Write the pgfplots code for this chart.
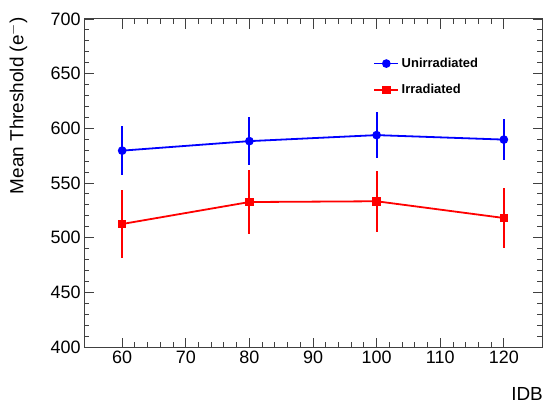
\documentclass[border=0pt]{standalone}
\usepackage{pgfplots}
\pgfplotsset{compat=1.18}
\usepackage{fontspec}
\setmainfont{Liberation Sans}
\begin{document}
\begin{tikzpicture}[x=1bp,y=1bp]
\path[use as bounding box] (0,0) rectangle (550,410);
\begin{axis}[
  at={(84bp,63bp)}, anchor=south west,
  scale only axis, width=458bp, height=328bp,
  xmin=54, xmax=126, ymin=400, ymax=700,
  xtick={60,70,...,120}, ytick={400,450,...,700},
  minor x tick num=4, minor y tick num=4,
  tick align=inside,
  major tick length=9.5bp, minor tick length=5bp,
  axis line style={line width=1bp, black!75},
  every tick/.style={line width=0.9bp, black!75},
  /pgf/number format/assume math mode=true,
  ticklabel style={font=\fontsize{18}{20}\selectfont},
  xlabel={IDB}, ylabel={Mean Threshold (e$^{-}$)},
  label style={font=\fontsize{19}{22}\selectfont},
  xlabel style={at={(rel axis cs:1,0)}, anchor=north east, inner sep=0pt, yshift=-40bp, xshift=1bp},
  ylabel style={at={(rel axis cs:-0.144,1.006)}, anchor=east, inner sep=0pt},
  legend style={draw=none, fill=none, at={(rel axis cs:0.625,0.895)}, anchor=north west,
    font=\fontsize{13}{15}\selectfont\bfseries, row sep=10.5bp,
    nodes={inner sep=2.5bp}},
  legend cell align=left,
  legend image code/.code={\draw[line width=1.8bp, mark repeat=2,mark phase=2] plot coordinates {(0bp,0bp) (12bp,0bp) (24bp,0bp)};},
]
\addplot[blue, line width=1.8bp, mark=*, mark size=3.4bp,
  error bars/.cd, y dir=both, y explicit, error mark=none,
  error bar style={line width=2bp, blue}]
  coordinates {
  (60,579.6) +- (0,22.6)
  (80,588.3) +- (0,22.2)
  (100,593.8) +- (0,21.2)
  (120,589.7) +- (0,19.0)
};
\addlegendentry{Unirradiated}
\addplot[red, line width=1.8bp, mark=square*, mark size=3.4bp,
  error bars/.cd, y dir=both, y explicit, error mark=none,
  error bar style={line width=2bp, red}]
  coordinates {
  (60,512.5) +- (0,31.5)
  (80,532.6) +- (0,29.0)
  (100,533.3) +- (0,28.0)
  (120,518.0) +- (0,27.2)
};
\addlegendentry{Irradiated}
\end{axis}
\end{tikzpicture}
\end{document}
